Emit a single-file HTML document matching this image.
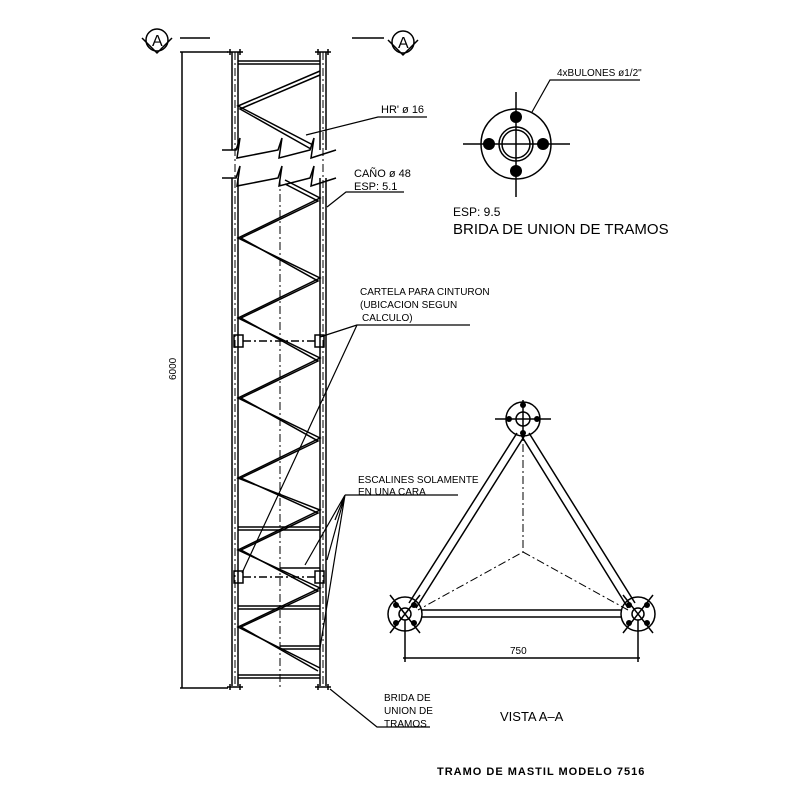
<!DOCTYPE html>
<html><head><style>
html,body{margin:0;padding:0;background:#fff;}
svg{display:block;}
text{font-family:"Liberation Sans",sans-serif;fill:#000;}
</style></head><body>
<svg width="800" height="800" viewBox="0 0 800 800" xmlns="http://www.w3.org/2000/svg">
<g stroke="#000" fill="none" stroke-width="1.5">
<!-- section markers -->
<circle cx="157" cy="40" r="11"/>
<path d="M142 38 L157 53 L172 38" />
<line x1="180" y1="38" x2="210" y2="38"/>
<circle cx="403" cy="42" r="11"/>
<path d="M388 40 L403 55 L418 40"/>
<line x1="352" y1="38" x2="384" y2="38"/>
<!-- dimension 6000 -->
<line x1="182" y1="52" x2="182" y2="688"/>
<line x1="180" y1="52" x2="228" y2="52"/>
<line x1="180" y1="688" x2="228" y2="688"/>
<!-- legs upper -->
<line x1="232" y1="52" x2="232" y2="150"/><line x1="238" y1="52" x2="238" y2="150"/>
<line x1="320" y1="52" x2="320" y2="150"/><line x1="326" y1="52" x2="326" y2="150"/>
<!-- legs lower -->
<line x1="232" y1="178" x2="232" y2="686"/><line x1="238" y1="178" x2="238" y2="686"/>
<line x1="320" y1="178" x2="320" y2="686"/><line x1="326" y1="178" x2="326" y2="686"/>
<g stroke-dasharray="8 3 2 3" stroke-width="1">
<line x1="235" y1="52" x2="235" y2="686"/><line x1="323" y1="52" x2="323" y2="686"/>
<line x1="280" y1="178" x2="280" y2="690"/>
</g>
<!-- flange ticks -->
<path d="M227 52 H243 M230 49 V55 M240 49 V55 M315 52 H331 M318 49 V55 M328 49 V55"/>
<path d="M227 687 H243 M230 684 V690 M240 684 V690 M315 687 H331 M318 684 V690 M328 684 V690"/>
<!-- upper bracing -->
<path d="M238 61 H320 M238 64 H320"/>
<path d="M320 71 L238 106 L313 145 M320 75 L240 109 L311 149"/>
<!-- break lines -->
<path d="M222 150 H236 L240 138 L237 158 L278 150 L282 138 L279 158 L310 150 L314 138 L311 158 L336 150"/>
<path d="M222 178 H236 L240 166 L237 186 L278 178 L282 166 L279 186 L310 178 L314 166 L311 186 L336 178"/>
<!-- lower zigzag -->
<path d="M285 180 L320 198 L238 238 L320 278 L238 318 L320 358 L238 398 L320 438 L238 478 L320 510 L238 550 L320 588 L238 627 L320 668"/>
<path d="M285 184 L318 201 L241 238 L318 281 L241 318 L318 361 L241 398 L318 441 L241 478 L318 513 L241 550 L318 591 L241 627 L318 671"/>
<!-- horizontals -->
<path d="M238 527 H320 M238 530 H320 M238 606 H320 M238 609 H320 M238 675 H320 M238 678 H320"/>
<path d="M280 568 H320 M280 646 H320 M280 649 H320"/>
<!-- cartelas -->
<rect x="234" y="335" width="9" height="12"/><rect x="315" y="335" width="9" height="12"/>
<rect x="234" y="571" width="9" height="12"/><rect x="315" y="571" width="9" height="12"/>
<line x1="243" y1="341" x2="315" y2="341" stroke-dasharray="8 3 2 3"/>
<line x1="243" y1="577" x2="315" y2="577" stroke-dasharray="8 3 2 3"/>
<!-- leaders -->
<path d="M306 135 L378 117 H427" stroke-width="1.2"/>
<path d="M327 207 L346 192 H404" stroke-width="1.2"/>
<path d="M242 573 L357 325 H470 M320 337 L357 325" stroke-width="1.2"/>
<path d="M305 565 L345 495 L320 648 M335 520 L345 495 L327 560 M345 495 H458" stroke-width="1.2"/>
<path d="M330 689 L377 727 H430" stroke-width="1.2"/>
<!-- flange detail -->
<circle cx="516" cy="144" r="35"/>
<circle cx="516" cy="144" r="17"/><circle cx="516" cy="144" r="14"/>
<path d="M463 144 H570 M516 92 V197"/>
<path d="M532 112 L550 80 H640" stroke-width="1.2"/>
</g>
<g fill="#000">
<circle cx="516" cy="117" r="6"/><circle cx="516" cy="171" r="6"/>
<circle cx="489" cy="144" r="6"/><circle cx="543" cy="144" r="6"/>
</g>
<!-- triangle view -->
<g stroke="#000" fill="none" stroke-width="1.5">
<path d="M517 433 L409 603 M525 435 L416 608"/>
<path d="M529 433 L635 603 M521 435 L628 608"/>
<path d="M421 610 H622 M421 617 H622"/>
<g stroke-dasharray="8 3 2 3" stroke-width="1">
<path d="M523 428 V552 L418 610 M523 552 L628 610"/>
</g>
<circle cx="523" cy="419" r="17"/><circle cx="523" cy="419" r="7"/>
<path d="M495 419 H551 M523 400 V438"/>
<circle cx="405" cy="614" r="17"/><circle cx="405" cy="614" r="6"/>
<circle cx="638" cy="614" r="17"/><circle cx="638" cy="614" r="6"/>
<path d="M390 595 L420 633 M390 633 L420 595 M653 595 L623 633 M623 595 L653 633"/>
<path d="M405 620 V662 M638 620 V662 M403 658 H640"/>
</g>
<g fill="#000">
<circle cx="523" cy="405" r="3"/><circle cx="523" cy="433" r="3"/><circle cx="509" cy="419" r="3"/><circle cx="537" cy="419" r="3"/>
<circle cx="396" cy="605" r="3"/><circle cx="414" cy="605" r="3"/><circle cx="396" cy="623" r="3"/><circle cx="414" cy="623" r="3"/>
<circle cx="629" cy="605" r="3"/><circle cx="647" cy="605" r="3"/><circle cx="629" cy="623" r="3"/><circle cx="647" cy="623" r="3"/>
</g>
<!-- text -->
<text x="176" y="380" font-size="10" transform="rotate(-90 176 380)">6000</text>
<text x="381" y="113" font-size="11">HR' ø 16</text>
<text x="354" y="177" font-size="11">CAÑO ø 48</text>
<text x="354" y="190" font-size="11">ESP: 5.1</text>
<text x="360" y="295" font-size="10">CARTELA PARA CINTURON</text>
<text x="360" y="308" font-size="10">(UBICACION SEGUN</text>
<text x="362" y="321" font-size="10">CALCULO)</text>
<text x="358" y="483" font-size="10">ESCALINES SOLAMENTE</text>
<text x="358" y="495" font-size="10">EN UNA CARA</text>
<text x="384" y="701" font-size="10">BRIDA DE</text>
<text x="384" y="714" font-size="10">UNION DE</text>
<text x="384" y="727" font-size="10">TRAMOS</text>
<text x="557" y="76" font-size="10">4xBULONES ø1/2"</text>
<text x="453" y="216" font-size="12">ESP: 9.5</text>
<text x="453" y="234" font-size="15">BRIDA DE UNION DE TRAMOS</text>
<text x="510" y="654" font-size="10">750</text>
<text x="500" y="721" font-size="13">VISTA A–A</text>
<text x="437" y="775" font-size="11" font-weight="bold" letter-spacing="1">TRAMO DE MASTIL MODELO 7516</text>
<text x="152" y="46" font-size="16">A</text>
<text x="398" y="48" font-size="16">A</text>
</svg>
</body></html>
